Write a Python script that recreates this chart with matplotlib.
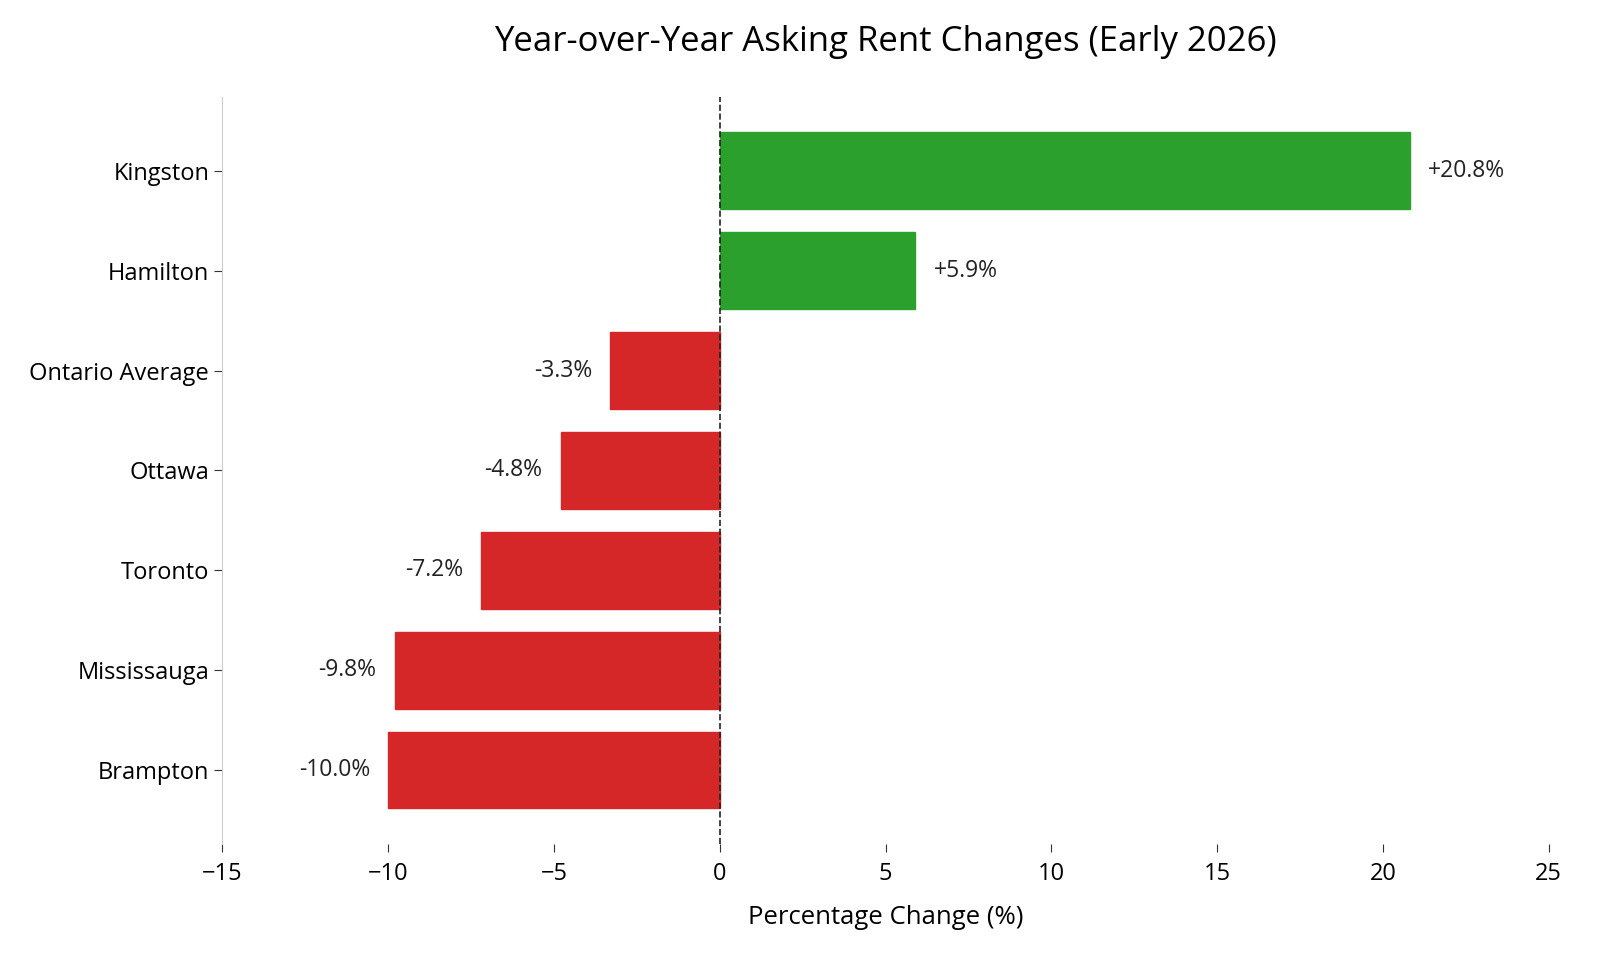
import matplotlib
matplotlib.use("Agg")
import matplotlib.pyplot as plt

plt.rcParams["font.family"] = ["Open Sans", "DejaVu Sans"]

cities = ["Brampton", "Mississauga", "Toronto", "Ottawa", "Ontario Average", "Hamilton", "Kingston"]
changes = [-10.0, -9.8, -7.2, -4.8, -3.3, 5.9, 20.8]

GREEN = "#2ca02c"
RED = "#d62728"

fig, ax = plt.subplots(figsize=(16, 9.6), dpi=100)
fig.subplots_adjust(left=0.139, right=0.968, top=0.899, bottom=0.121)

colors = [GREEN if v > 0 else RED for v in changes]
ax.barh(cities, changes, height=0.77, color=colors, edgecolor=colors, linewidth=1)
ax.axvline(0, color="#222222", linestyle="--", linewidth=1.2)

for i, v in enumerate(changes):
    if v > 0:
        ax.text(v + 0.55, i, f"+{v:.1f}%", va="center", ha="left", fontsize=16.5, color="#222222")
    else:
        ax.text(v - 0.55, i, f"{v:.1f}%", va="center", ha="right", fontsize=16.5, color="#222222")

ax.set_xlim(-15, 25)
ax.set_ylim(-0.74, 6.74)
ax.set_xticks(range(-15, 30, 5))
ax.tick_params(axis="both", labelsize=17, length=6, color="#333333")
ax.tick_params(axis="x", pad=7)
for s in ["top", "right", "bottom"]:
    ax.spines[s].set_visible(False)
ax.spines["left"].set_color("#cccccc")

ax.set_xlabel("Percentage Change (%)", fontsize=18.5, labelpad=14)
ax.set_title("Year-over-Year Asking Rent Changes (Early 2026)", fontsize=25, pad=33)

fig.savefig("out.png", dpi=100)
